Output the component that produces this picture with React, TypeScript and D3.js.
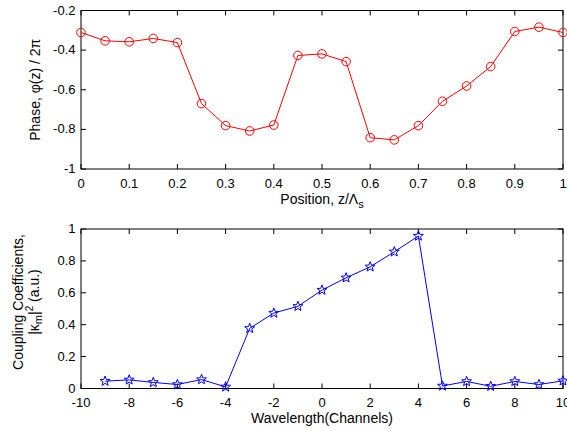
import React from 'react';
import * as d3 from 'd3';

const positions = [0, 0.05, 0.1, 0.15, 0.2, 0.25, 0.3, 0.35, 0.4, 0.45, 0.5, 0.55, 0.6, 0.65, 0.7, 0.75, 0.8, 0.85, 0.9, 0.95, 1.0];
const phase = [-0.311, -0.353, -0.358, -0.341, -0.362, -0.670, -0.781, -0.808, -0.778, -0.427, -0.419, -0.458, -0.842, -0.853, -0.781, -0.658, -0.581, -0.483, -0.306, -0.284, -0.311];
const posTicks = [0, 0.1, 0.2, 0.3, 0.4, 0.5, 0.6, 0.7, 0.8, 0.9, 1];
const phaseTicks = [-1, -0.8, -0.6, -0.4, -0.2];

const channels = [-9, -8, -7, -6, -5, -4, -3, -2, -1, 0, 1, 2, 3, 4, 5, 6, 7, 8, 9, 10];
const coupling = [0.046, 0.054, 0.038, 0.025, 0.056, 0.01, 0.377, 0.473, 0.515, 0.617, 0.694, 0.763, 0.857, 0.956, 0.016, 0.044, 0.014, 0.044, 0.025, 0.048];
const chanTicks = [-10, -8, -6, -4, -2, 0, 2, 4, 6, 8, 10];
const coupTicks = [0, 0.2, 0.4, 0.6, 0.8, 1];

const FONT = '"Liberation Sans", Arial, Helvetica, sans-serif';
const L = 81, R = 563;
const TICK = 5;
const TICK_FS = 13;
const LABEL_FS = 14;

function starPath(r: number) {
  const pts: string[] = [];
  for (let i = 0; i < 10; i++) {
    const rad = i % 2 === 0 ? r : r * 0.42;
    const a = -Math.PI / 2 + (i * Math.PI) / 5;
    pts.push(`${(rad * Math.cos(a)).toFixed(2)},${(rad * Math.sin(a)).toFixed(2)}`);
  }
  return 'M' + pts.join('L') + 'Z';
}

function Frame({ x, y, xTicks, yTicks, fmtX, fmtY }: any) {
  const [x0, x1] = x.range();
  const [y0, y1] = y.range();
  return (
    <g>
      <rect x={x0} y={y1} width={x1 - x0} height={y0 - y1} fill="white" stroke="black" strokeWidth={1} />
      {xTicks.map((t: number) => (
        <g key={'x' + t}>
          <line x1={x(t)} x2={x(t)} y1={y0} y2={y0 - TICK} stroke="black" />
          <line x1={x(t)} x2={x(t)} y1={y1} y2={y1 + TICK} stroke="black" />
          <text x={x(t)} y={y0 + 18.5} textAnchor="middle" fontSize={TICK_FS} fontFamily={FONT}>{fmtX(t)}</text>
        </g>
      ))}
      {yTicks.map((t: number) => (
        <g key={'y' + t}>
          <line x1={x0} x2={x0 + TICK} y1={y(t)} y2={y(t)} stroke="black" />
          <line x1={x1} x2={x1 - TICK} y1={y(t)} y2={y(t)} stroke="black" />
          <text x={x0 - 5.5} y={y(t) + 4} textAnchor="end" fontSize={TICK_FS} fontFamily={FONT}>{fmtY(t)}</text>
        </g>
      ))}
    </g>
  );
}

export default function App() {
  const x1 = d3.scaleLinear().domain([0, 1]).range([L, R]);
  const y1 = d3.scaleLinear().domain([-1, -0.2]).range([169, 10.5]);
  const x2 = d3.scaleLinear().domain([-10, 10]).range([L, R]);
  const y2 = d3.scaleLinear().domain([0, 1]).range([388.5, 229]);

  const line1 = d3.line<number>().x((_, i) => x1(positions[i])).y(d => y1(d));
  const line2 = d3.line<number>().x((_, i) => x2(channels[i])).y(d => y2(d));
  const star = starPath(5.2);
  const fmt = (t: number) => String(t);

  return (
    <svg width={567} height={431} style={{ position: 'absolute', left: 0, top: 0, background: 'white' }}>
      <rect width={567} height={431} fill="white" />
      <Frame x={x1} y={y1} xTicks={posTicks} yTicks={phaseTicks} fmtX={fmt} fmtY={fmt} />
      <path d={line1(phase) || ''} fill="none" stroke="#ff0000" strokeWidth={1} />
      {phase.map((v, i) => (
        <circle key={i} cx={x1(positions[i])} cy={y1(v)} r={4.3} fill="none" stroke="#ff0000" strokeWidth={1} />
      ))}
      <text x={(R + L) / 2} y={204} textAnchor="middle" fontSize={LABEL_FS} fontFamily={FONT}>
        Position, z/Λ<tspan fontSize={11} dy={4}>s</tspan>
      </text>
      <text transform={`translate(40,${(10.5 + 169) / 2}) rotate(-90)`} textAnchor="middle" fontSize={LABEL_FS} fontFamily={FONT}>
        Phase, φ(z) / 2π
      </text>

      <Frame x={x2} y={y2} xTicks={chanTicks} yTicks={coupTicks} fmtX={fmt} fmtY={fmt} />
      <path d={line2(coupling) || ''} fill="none" stroke="#0000ff" strokeWidth={1} />
      {coupling.map((v, i) => (
        <path key={i} d={star} transform={`translate(${x2(channels[i])},${y2(v)})`} fill="none" stroke="#0000ff" strokeWidth={1} />
      ))}
      <text x={(R + L) / 2} y={423} textAnchor="middle" fontSize={LABEL_FS} fontFamily={FONT}>
        Wavelength(Channels)
      </text>
      <text transform={`translate(23,302) rotate(-90)`} textAnchor="middle" fontSize={LABEL_FS} fontFamily={FONT}>
        Coupling Coefficients,
      </text>
      <text transform={`translate(39,302) rotate(-90)`} textAnchor="middle" fontSize={LABEL_FS} fontFamily={FONT}>
        |κ<tspan fontSize={11} dy={3}>m</tspan><tspan dy={-3}>|</tspan><tspan fontSize={10} dy={-6}>2</tspan><tspan dy={6}> (a.u.)</tspan>
      </text>
    </svg>
  );
}
